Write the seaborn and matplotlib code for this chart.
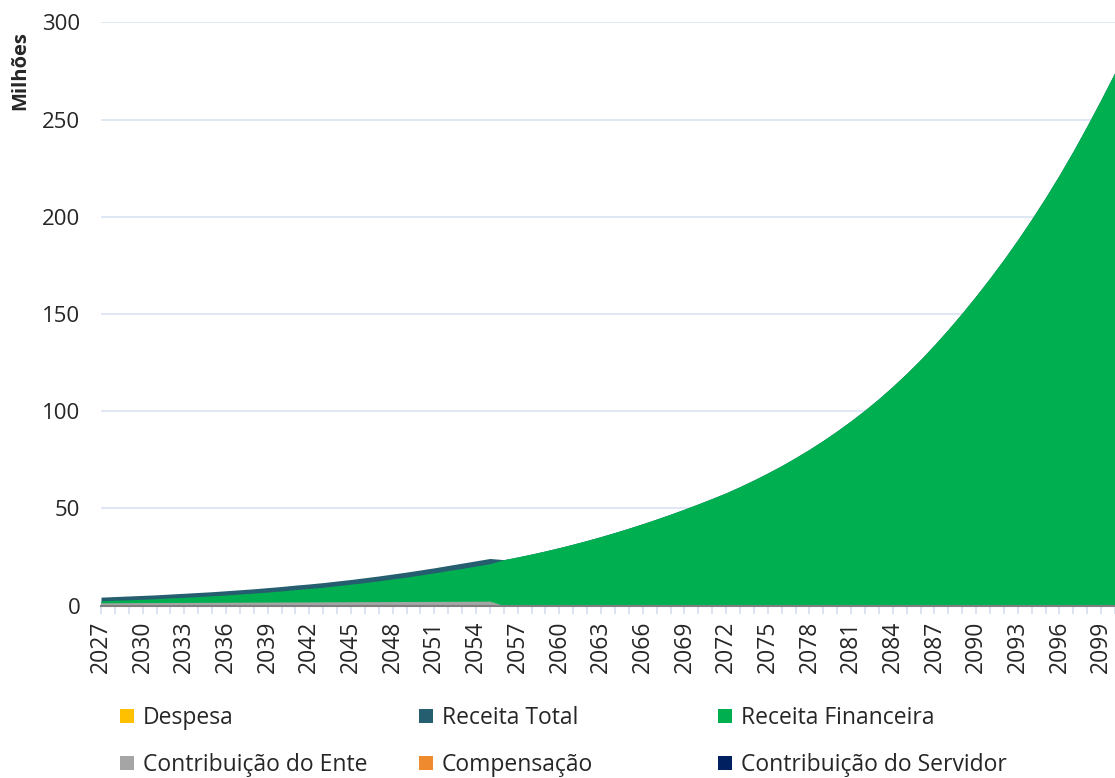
import matplotlib
matplotlib.use("Agg")
import matplotlib.pyplot as plt
import seaborn as sns
from matplotlib.patches import Patch

# ---------------- data ----------------
years = list(range(2027, 2101))

receita_total = [
    4.3, 4.6, 4.9, 5.2, 5.5, 5.9, 6.3, 6.7, 7.1, 7.6,          # 2027-2036
    8.1, 8.6, 9.2, 9.8, 10.5, 11.1, 11.8, 12.6, 13.4, 14.3,    # 2037-2046
    15.2, 16.2, 17.2, 18.3, 19.4, 20.6, 21.8, 23.0, 24.2,      # 2047-2055
    23.6, 25.0, 26.5, 28.1, 29.8, 31.6, 33.5, 35.5, 37.6, 39.8,  # 2056-2065
    42.1, 44.5, 47.0, 49.6, 52.3, 55.1, 58.0, 61.2, 64.6, 68.2,  # 2066-2075
    72.0, 76.1, 80.4, 85.0, 89.9, 95.1, 100.6, 106.5, 112.8, 119.5,  # 2076-2085
    126.6, 134.2, 142.2, 150.6, 159.4, 168.6, 178.2, 188.3, 198.9, 210.0,  # 2086-2095
    221.7, 234.0, 247.0, 260.5, 274.5,                          # 2096-2100
]

receita_financeira = [
    2.4, 2.7, 2.9, 3.2, 3.5, 3.9, 4.2, 4.6, 5.0, 5.4,
    5.9, 6.4, 6.9, 7.5, 8.2, 8.8, 9.4, 10.2, 11.0, 11.8,
    12.7, 13.7, 14.6, 15.7, 16.8, 18.0, 19.1, 20.3, 21.5,
    23.6, 25.0, 26.5, 28.1, 29.8, 31.6, 33.5, 35.5, 37.6, 39.8,
    42.1, 44.5, 47.0, 49.6, 52.3, 55.1, 58.0, 61.2, 64.6, 68.2,
    72.0, 76.1, 80.4, 85.0, 89.9, 95.1, 100.6, 106.5, 112.8, 119.5,
    126.6, 134.2, 142.2, 150.6, 159.4, 168.6, 178.2, 188.3, 198.9, 210.0,
    221.7, 234.0, 247.0, 260.5, 274.5,
]

contribuicao_ente = [
    1.40, 1.43, 1.46, 1.49, 1.52, 1.55, 1.58, 1.61, 1.64, 1.67,
    1.70, 1.73, 1.76, 1.79, 1.82, 1.85, 1.88, 1.91, 1.94, 1.97,
    2.00, 2.03, 2.06, 2.09, 2.12, 2.15, 2.18, 2.21, 2.24,
] + [0.0] * 45

despesa = [0.0] * 74
compensacao = [0.0] * 74
contribuicao_servidor = [0.0] * 74

series_names = ["Despesa", "Receita Total", "Receita Financeira",
                "Contribuição do Ente", "Compensação", "Contribuição do Servidor"]
series_values = [despesa, receita_total, receita_financeira,
                 contribuicao_ente, compensacao, contribuicao_servidor]
series_colors = ["#FFC000", "#255E6E", "#00B050", "#A5A5A5", "#F08A2E", "#002060"]

# ---------------- style ----------------
sns.set_theme(style="white")
plt.rcParams["font.family"] = ["Open Sans", "DejaVu Sans"]

fig = plt.figure(figsize=(11.15, 7.78), dpi=100)
W, H = 1115, 778
ax = fig.add_axes([101 / W, 1 - 605.5 / H, (1115 - 101) / W, (605.5 - 22.5) / H])

for name, vals, col in zip(series_names, series_values, series_colors):
    ax.fill_between(years, 0, vals, color=col, linewidth=0, label=name, zorder=2)

ax.set_xlim(2027, 2100)
ax.set_ylim(0, 300)
ax.set_yticks([0, 50, 100, 150, 200, 250, 300])
ax.yaxis.grid(True, color="#D9E1F2", linewidth=1.2, zorder=0)
ax.xaxis.grid(False)
ax.set_axisbelow(True)

ax.set_xticks(years)
ax.set_xticklabels([str(y) if (y - 2027) % 3 == 0 else "" for y in years],
                   rotation=90, fontsize=16.5)
ax.tick_params(axis="x", length=6, width=1.3, color="#D9E1F2", pad=5, bottom=True)
ax.tick_params(axis="y", length=0, pad=15, labelsize=16)

sns.despine(ax=ax, left=True, top=True, right=True, bottom=False)
ax.spines["bottom"].set_color("#7F7F7F")
ax.spines["bottom"].set_linewidth(1.5)
ax.spines["bottom"].set_zorder(3)

fig.text(20 / W, 1 - 71 / H, "Milhões", rotation=90, fontsize=14.5,
         fontweight="bold", ha="center", va="center")

# ---------------- legend: three columns, two rows ----------------
handles = [Patch(facecolor=c, edgecolor="none") for c in series_colors]
col_x = [120, 419, 718]
for i, x in enumerate(col_x):
    idx = [i, i + 3]
    fig.legend([handles[j] for j in idx], [series_names[j] for j in idx],
               loc="upper left", bbox_to_anchor=(x / W, 1 - 706 / H),
               frameon=False, fontsize=16.5, handlelength=0.6, handleheight=0.6,
               handletextpad=0.4, labelspacing=1.0, borderpad=0, borderaxespad=0)

fig.savefig("out.png", dpi=100)
